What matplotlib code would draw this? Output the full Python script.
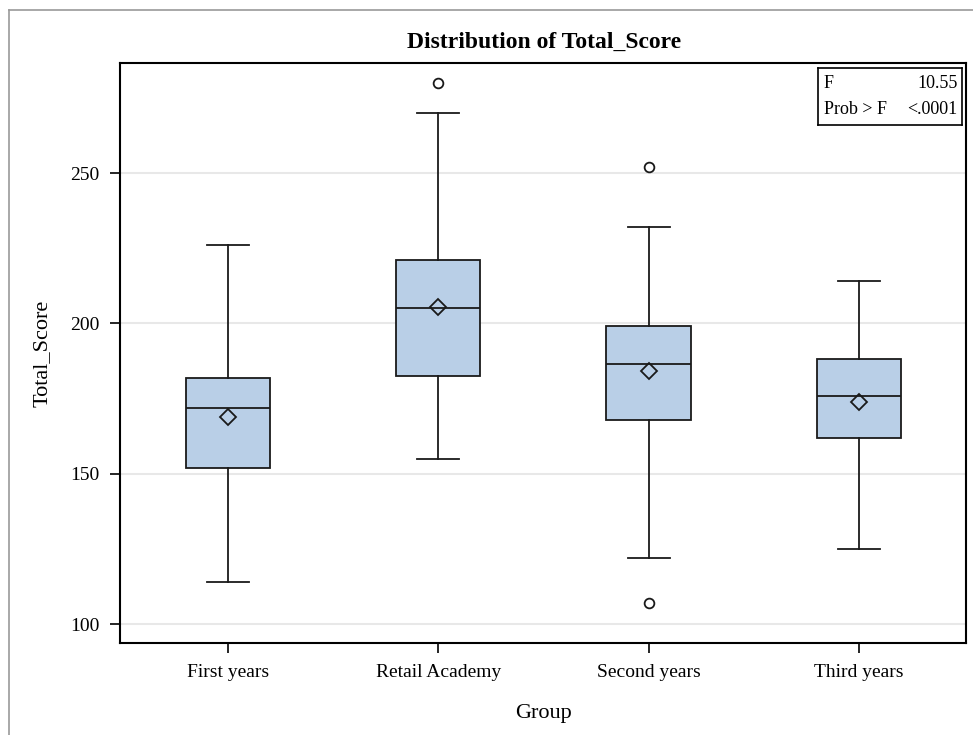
import numpy as np
import matplotlib
matplotlib.use("Agg")
import matplotlib.pyplot as plt
from matplotlib.lines import Line2D

plt.rcParams['font.family'] = ['Liberation Serif', 'DejaVu Serif']

# Données
groupes = ['First years', 'Retail Academy', 'Second years', 'Third years']
moustache_bas = [114, 155, 122, 125]
q1 = [152, 182.5, 168, 162]
medianes = [172, 205, 186.5, 176]
q3 = [182, 221, 199, 188]
moustache_haut = [226, 270, 232, 214]
moyennes = [169, 205.5, 184, 174]
aberrants = [[], [280], [252, 107], []]

stats = []
for i in range(len(groupes)):
    stats.append({
        'label': groupes[i],
        'whislo': moustache_bas[i],
        'q1': q1[i],
        'med': medianes[i],
        'q3': q3[i],
        'whishi': moustache_haut[i],
        'mean': moyennes[i],
        'fliers': aberrants[i],
    })

fig = plt.figure(figsize=(9.73, 7.35), dpi=100)
ax = fig.add_axes([120 / 973, 1 - 643 / 735, 846 / 973, 580 / 735])

pos = np.arange(len(groupes))
ax.bxp(stats, positions=pos, widths=0.4, patch_artist=True, showmeans=True,
       boxprops=dict(facecolor='#b9cfe7', edgecolor='#1a1a1a', linewidth=1.3),
       medianprops=dict(color='#1a1a1a', linewidth=1.3),
       whiskerprops=dict(color='#1a1a1a', linewidth=1.3),
       capprops=dict(color='#1a1a1a', linewidth=1.3),
       capwidths=0.2,
       meanprops=dict(marker='D', markerfacecolor='none', markeredgecolor='#1a1a1a',
                      markersize=8, markeredgewidth=1.3),
       flierprops=dict(marker='o', markerfacecolor='none', markeredgecolor='#1a1a1a',
                       markersize=7, markeredgewidth=1.3))

ax.set_xlim(-0.514, 3.51)
ax.set_ylim(93.7, 286.6)
ax.set_yticks([100, 150, 200, 250])
ax.set_xticks(pos)
ax.set_xticklabels(groupes)
ax.yaxis.grid(True, color='#e8e8e8', linewidth=1.5)
ax.set_axisbelow(True)
ax.tick_params(axis='both', direction='out', length=7, width=1.2, labelsize=14, pad=8)
for s in ax.spines.values():
    s.set_linewidth(1.5)

ax.set_xlabel('Group', fontsize=16, labelpad=17)
ax.set_ylabel('Total_Score', fontsize=16, labelpad=13)
fig.text(544 / 973, 1 - 42 / 735, 'Distribution of Total_Score', ha='center', va='center',
         fontsize=17, fontweight='bold')

# encadré statistique
enc = ax.inset_axes([818 / 973, 1 - 125 / 735, 144 / 973, 57 / 735], transform=fig.transFigure)
enc.set_xticks([])
enc.set_yticks([])
for s in enc.spines.values():
    s.set_linewidth(1.2)
enc.text(0.04, 0.73, 'F', ha='left', va='center', fontsize=13, transform=enc.transAxes)
enc.text(0.97, 0.73, '10.55', ha='right', va='center', fontsize=13, transform=enc.transAxes)
enc.text(0.04, 0.27, 'Prob > F', ha='left', va='center', fontsize=13, transform=enc.transAxes)
enc.text(0.97, 0.27, '<.0001', ha='right', va='center', fontsize=13, transform=enc.transAxes)

# bordure grise de la figure
fig.add_artist(Line2D([9 / 973, 9 / 973], [0, 1 - 10 / 735], color='#999999', linewidth=1.2,
                      transform=fig.transFigure))
fig.add_artist(Line2D([9 / 973, 1], [1 - 10 / 735, 1 - 10 / 735], color='#999999', linewidth=1.2,
                      transform=fig.transFigure))

fig.savefig('out.png', dpi=100)
